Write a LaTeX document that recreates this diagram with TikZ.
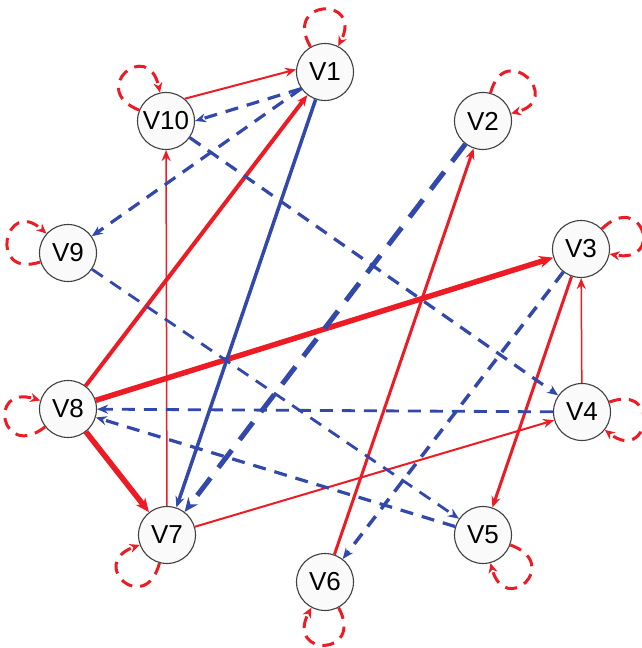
\documentclass[tikz,border=0pt]{standalone}
\usepackage{fontspec}
\setmainfont{Liberation Sans}
\usetikzlibrary{arrows.meta}
\definecolor{ered}{RGB}{237,28,36}
\definecolor{eblue}{RGB}{50,72,170}
\begin{document}
\begin{tikzpicture}[x=1pt,y=1pt,
  vnode/.style={circle, draw=black!75, line width=1.1pt, fill=black!2, minimum size=57pt, inner sep=0pt, font=\fontsize{26}{26}\selectfont},
  redline/.style={draw=ered, -{Stealth[length=11pt,width=9pt]}},
  blueline/.style={draw=eblue, -{Stealth[length=11pt,width=9pt]}},
  bdash/.style={blueline, line width=3.2pt, dash pattern=on 13pt off 9pt},
  selfloop/.style={draw=ered, line width=3pt, dash pattern=on 12pt off 8pt, distance=56pt, -{Stealth[length=10pt,width=9pt]}},
]
\useasboundingbox (0,0) rectangle (641,648);
\node[vnode] (v1)  at (325,576) {V1};
\node[vnode] (v2)  at (483,527) {V2};
\node[vnode] (v3)  at (581,399) {V3};
\node[vnode] (v4)  at (582,236) {V4};
\node[vnode] (v5)  at (483,113) {V5};
\node[vnode] (v6)  at (325,66)  {V6};
\node[vnode] (v7)  at (167,113) {V7};
\node[vnode] (v8)  at (68,239)  {V8};
\node[vnode] (v9)  at (68,395)  {V9};
\node[vnode] (v10) at (166,527) {V10};

% self loops
\draw[selfloop] (v1) to[out=120,in=63] (v1);
\draw[selfloop] (v2) to[out=75,in=15] (v2);
\draw[selfloop] (v3) to[out=44,in=-10] (v3);
\draw[selfloop] (v4) to[out=20,in=-38] (v4);
\draw[selfloop] (v5) to[out=-20,in=-75] (v5);
\draw[selfloop] (v6) to[out=-62,in=-118] (v6);
\draw[selfloop] (v7) to[out=255,in=200] (v7);
\draw[selfloop] (v8) to[out=218,in=163] (v8);
\draw[selfloop] (v9) to[out=198,in=138] (v9);
\draw[selfloop] (v10) to[out=158,in=102] (v10);

% red edges
\draw[redline, line width=2pt] (v10.50) -- (v1.175);
\draw[redline, line width=4pt] (v8) -- (v1);
\draw[redline, line width=1.5pt] (v7) -- (v10);
\draw[redline, line width=3pt] (v6) -- (v2);
\draw[redline, line width=5.5pt, -{Stealth[length=14pt,width=12pt]}] (v8) -- (v3);
\draw[redline, line width=3pt] (v3) -- (v5);
\draw[redline, line width=1.5pt] (v4) -- (v3);
\draw[redline, line width=5.5pt, -{Stealth[length=14pt,width=12pt]}] (v8) -- (v7);
\draw[redline, line width=2pt] (v7) -- (v4);

% blue edges
\draw[bdash] (v1.215) -- (v10.0);
\draw[bdash] (v1) -- (v9);
\draw[blueline, line width=3.5pt] (v1) -- (v7);
\draw[bdash] (v10) -- (v4);
\draw[bdash, line width=5pt, dash pattern=on 22pt off 13pt, -{Stealth[length=14pt,width=12pt]}] (v2) -- (v7);
\draw[bdash, line width=3.5pt] (v3) -- (v6);
\draw[bdash, line width=2.8pt] (v4) -- (v8);
\draw[bdash, line width=2.8pt] (v9) -- (v5);
\draw[bdash] (v5) -- (v8);
\end{tikzpicture}
\end{document}
